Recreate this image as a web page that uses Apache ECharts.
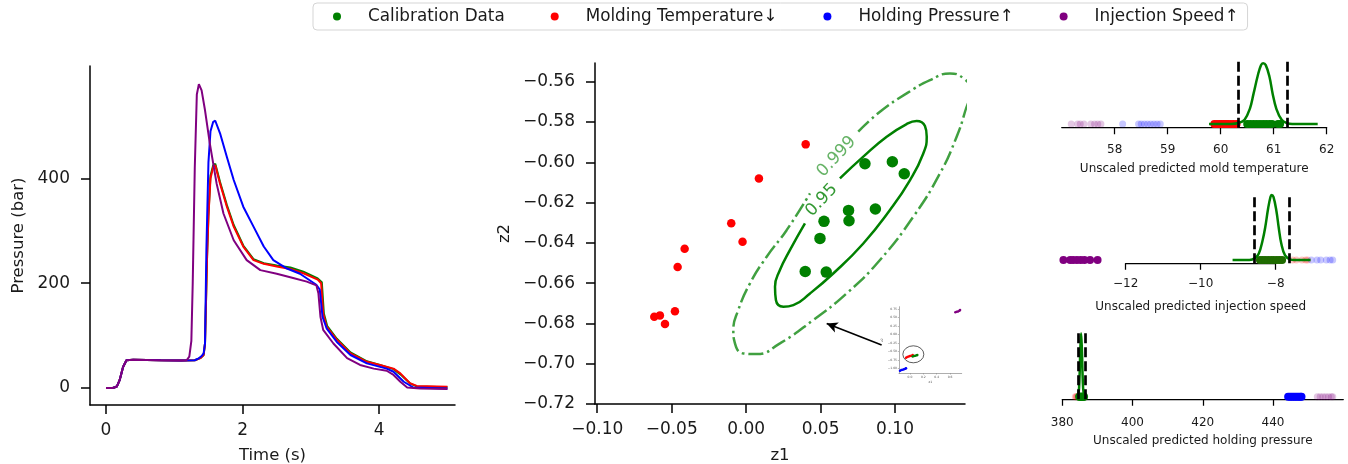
<!DOCTYPE html>
<html>
<head>
<meta charset="utf-8">
<script src="https://cdn.jsdelivr.net/npm/echarts@6/dist/echarts.min.js"></script>
<style>
  html, body { margin: 0; padding: 0; background: #fff; }
  #chart { width: 1348px; height: 464px; }
</style>
</head>
<body>
<div id="chart"></div>
<script>
// ---- left panel: pressure curves [time (s), pressure (bar)]
var curveCalib = [[0,0],[0.1,0],[0.16,3],[0.2,15],[0.25,40],[0.3,53],[0.4,54],[0.8,53],[1.1,52.5],[1.3,53],[1.38,57],[1.43,63],[1.45,85],[1.48,250],[1.5,330],[1.53,405],[1.57,425],[1.6,428],[1.67,393],[1.77,349],[1.87,311],[2.01,272],[2.16,246],[2.31,238],[2.5,234],[2.7,230],[2.89,222],[3.1,209],[3.16,202],[3.19,142],[3.24,118],[3.38,94],[3.58,68],[3.82,51],[4.01,44],[4.21,36],[4.33,24],[4.45,9],[4.55,3],[5.0,1.5]];
var curveTemp = [[0,0],[0.1,0],[0.16,3],[0.2,15],[0.25,40],[0.3,53],[0.4,54],[0.8,53],[1.1,52.5],[1.3,53],[1.38,57],[1.43,63],[1.45,85],[1.48,250],[1.5,327],[1.53,400],[1.57,422],[1.6,425],[1.67,390],[1.77,346],[1.87,308],[2.01,270],[2.16,244],[2.31,237],[2.5,232],[2.7,227],[2.89,219],[3.1,207],[3.15,200],[3.18,142],[3.23,117],[3.38,92],[3.58,66],[3.82,50],[4.01,44],[4.21,37],[4.31,28],[4.45,9],[4.55,4],[5.0,2.5]];
var curvePressure = [[0,0],[0.1,0],[0.16,3],[0.2,15],[0.25,40],[0.3,53],[0.4,54],[0.8,53],[1.1,52.5],[1.3,53],[1.35,56],[1.4,61],[1.43,66],[1.45,85],[1.47,263],[1.5,430],[1.53,490],[1.57,508],[1.6,510],[1.67,486],[1.77,441],[1.87,397],[2.01,346],[2.16,308],[2.31,270],[2.45,244],[2.65,228],[2.84,218],[3.08,197],[3.13,188],[3.17,136],[3.23,114],[3.38,88],[3.58,63],[3.82,47],[4.11,37],[4.21,31],[4.36,12],[4.5,1],[5.0,-1]];
var curveSpeed = [[0,0],[0.1,0],[0.16,3],[0.2,15],[0.25,40],[0.3,53],[0.4,54],[0.8,53],[1.1,52.5],[1.18,53],[1.22,60],[1.25,90],[1.27,200],[1.3,420],[1.33,560],[1.36,580],[1.4,568],[1.45,530],[1.52,467],[1.62,390],[1.72,333],[1.87,282],[2.06,244],[2.26,225],[2.5,218],[2.74,210],[2.94,203],[3.08,196],[3.11,181],[3.14,136],[3.18,111],[3.33,85],[3.53,57],[3.72,44],[3.92,37],[4.11,33],[4.21,25],[4.31,12],[4.41,1],[4.6,-1],[5.0,-2]];
var timeTicks = [0, 2, 4];
var pressureTicks = [0, 200, 400];

// ---- middle panel: latent space [z1, z2]
var latentCalib = [[0.0798,-0.6007],[0.0982,-0.5997],[0.1062,-0.6057],[0.0688,-0.6239],[0.0868,-0.6232],[0.0523,-0.6293],[0.0691,-0.629],[0.0496,-0.6378],[0.0397,-0.6542],[0.0538,-0.6545]];
var latentTemp = [[0.040,-0.5911],[0.0086,-0.608],[-0.010,-0.6303],[-0.0024,-0.6394],[-0.0413,-0.6429],[-0.046,-0.652],[-0.0478,-0.674],[-0.0579,-0.676],[-0.0617,-0.6767],[-0.0545,-0.6803]];
var ellipse95 = [[0.0630,-0.6080],[0.0787,-0.5972],[0.0944,-0.5873],[0.1078,-0.5810],[0.1145,-0.5795],[0.1201,-0.5820],[0.1213,-0.5873],[0.1190,-0.5956],[0.1101,-0.6088],[0.0966,-0.6237],[0.0787,-0.6403],[0.0585,-0.6552],[0.0429,-0.6651],[0.0317,-0.6709],[0.0250,-0.6717],[0.0200,-0.6684],[0.0194,-0.6618],[0.0227,-0.6535],[0.0294,-0.6436],[0.0395,-0.6303]];
var ellipse999 = [[0.0753,-0.5848],[0.0899,-0.5749],[0.1078,-0.5658],[0.1235,-0.5592],[0.1369,-0.5559],[0.1459,-0.5583],[0.1508,-0.5641],[0.1470,-0.5749],[0.1414,-0.5873],[0.1302,-0.6055],[0.1123,-0.6270],[0.0899,-0.6485],[0.0675,-0.6651],[0.0451,-0.6783],[0.0227,-0.6899],[0.0070,-0.6952],[-0.0019,-0.6949],[-0.0075,-0.6899],[-0.0086,-0.6833],[-0.0053,-0.6734],[0.0026,-0.6601],[0.0138,-0.6469],[0.0272,-0.6337],[0.0429,-0.6154]];
var label95 = [0.0507, -0.6188];
var label999 = [0.0608, -0.5972];
var arrowTail = [0.091, -0.6907];
var arrowHead = [0.0541, -0.680];
var z1Ticks = [-0.10, -0.05, 0.00, 0.05, 0.10];
var z2Ticks = [-0.72, -0.70, -0.68, -0.66, -0.64, -0.62, -0.60, -0.58, -0.56];

// ---- inset: full latent space
var insetCalib = [[0.04,-0.64],[0.06,-0.63],[0.08,-0.62],[0.1,-0.61],[0.11,-0.6]];
var insetTemp = [[-0.06,-0.68],[-0.04,-0.66],[-0.02,-0.64],[0.0,-0.63],[0.02,-0.62],[0.04,-0.6]];
var insetPressure = [[-0.15,-1.06],[-0.13,-1.04],[-0.11,-1.03],[-0.09,-1.02],[-0.07,-1.0],[-0.06,-0.99]];
var insetSpeed = [[0.68,0.66],[0.7,0.67],[0.72,0.68],[0.74,0.7],[0.75,0.72]];
var insetCircle = [0.05, -0.579];
var insetXTicks = [0.0, 0.2, 0.4, 0.6];
var insetYTicks = [-1.0, -0.75, -0.5, -0.25, 0.0, 0.25, 0.5, 0.75];

// ---- right panels: unscaled predictions
var moldCalib = [60.5,60.56,60.62,60.68,60.74,60.8,60.86,60.92,60.97,61.08,61.12];
var moldTemp = [59.88,59.93,59.98,60.02,60.06,60.1,60.14,60.19,60.24,60.3];
var moldPressure = [58.15,58.45,58.5,58.56,58.62,58.68,58.74,58.8,58.86];
var moldSpeed = [57.18,57.3,57.35,57.42,57.55,57.62,57.68,57.74];
var moldKde = [[59.78,0],[60.2,0],[60.35,0.02],[60.45,0.07],[60.55,0.25],[60.62,0.5],[60.7,0.8],[60.76,0.97],[60.8,1],[60.85,0.97],[60.92,0.78],[60.98,0.5],[61.05,0.25],[61.15,0.07],[61.25,0.015],[61.35,0],[61.83,0]];
var moldCI = [60.33, 61.26];
var moldTicks = [58, 59, 60, 61, 62];

var speedCalib = [-8.42,-8.35,-8.28,-8.2,-8.12,-8.05,-7.97,-7.9,-7.83];
var speedTemp = [-7.55,-7.45,-7.3,-7.2,-7.15];
var speedPressure = [-7.05,-6.9,-6.8,-6.65,-6.55,-6.48];
var speedSpeed = [-13.66,-13.48,-13.4,-13.3,-13.2,-13.1,-12.95,-12.75];
var speedKde = [[-9.15,0],[-8.7,0],[-8.55,0.03],[-8.45,0.1],[-8.35,0.3],[-8.28,0.5],[-8.2,0.8],[-8.14,0.97],[-8.11,1],[-8.06,0.97],[-7.98,0.75],[-7.92,0.5],[-7.85,0.25],[-7.75,0.07],[-7.62,0.01],[-7.5,0],[-7.07,0]];
var speedCI = [-8.58, -7.645];
var speedTicks = [-12, -10, -8];

var holdCalib = [384.8,385.0,385.2,385.4,385.6,385.8,386.0,386.2];
var holdTemp = [383.7,384.0,384.2];
var holdPressure = [444.3,444.8,445.3,445.8,446.3,446.8,447.3,447.8,448.1];
var holdSpeed = [452.6,453.4,454.2,455,455.8,456.6,457];
var holdKde = [[384.0,0],[384.6,0.05],[384.9,0.3],[385.1,0.7],[385.35,1],[385.6,0.7],[385.8,0.3],[386.1,0.05],[386.7,0]];
var holdCI = [384.4, 386.5];
var holdTicks = [380, 400, 420, 440];

var GREEN = '#008000', RED = '#ff0000', BLUE = '#0000ff', PURPLE = '#800080';
var FONT = 'DejaVu Sans';
var TXT = '#1a1a1a';

function fmt(d) {
  return function (v) { return (v < 0 ? '\u2212' : '') + Math.abs(v).toFixed(d); };
}
function on0(arr) { return arr.map(function (x) { return [x, 0]; }); }

function mainAxisX(grid, min, max, ticks, dec, name, gap) {
  return {
    type: 'value', gridIndex: grid, min: min, max: max,
    name: name, nameLocation: 'middle', nameGap: gap,
    nameTextStyle: { fontFamily: FONT, fontSize: 16.5, color: TXT },
    axisLine: { show: true, onZero: false, lineStyle: { color: '#000', width: 1.5 } },
    axisTick: { show: true, length: 9, customValues: ticks, lineStyle: { color: '#000', width: 1.5 } },
    axisLabel: { customValues: ticks, formatter: fmt(dec), fontFamily: FONT, fontSize: 17, color: TXT, margin: 17 },
    splitLine: { show: false }
  };
}
function mainAxisY(grid, min, max, ticks, dec, name, gap) {
  return {
    type: 'value', gridIndex: grid, min: min, max: max,
    name: name, nameLocation: 'middle', nameGap: gap,
    nameTextStyle: { fontFamily: FONT, fontSize: 16.5, color: TXT },
    axisLine: { show: true, onZero: false, lineStyle: { color: '#000', width: 1.5 } },
    axisTick: { show: true, length: 9, customValues: ticks, lineStyle: { color: '#000', width: 1.5 } },
    axisLabel: { customValues: ticks, formatter: fmt(dec), fontFamily: FONT, fontSize: 17, color: TXT, margin: 20 },
    splitLine: { show: false }
  };
}
function smallAxisX(grid, min, max, ticks, name, margin, gap) {
  return {
    type: 'value', gridIndex: grid, min: min, max: max,
    name: name, nameLocation: 'middle', nameGap: gap,
    nameTextStyle: { fontFamily: FONT, fontSize: 12, color: TXT },
    axisLine: { show: true, onZero: false, lineStyle: { color: '#000', width: 1.25 } },
    axisTick: { show: true, length: 6.5, customValues: ticks, lineStyle: { color: '#000', width: 1.25 } },
    axisLabel: { customValues: ticks, formatter: fmt(0), fontFamily: FONT, fontSize: 12, color: TXT, margin: margin },
    splitLine: { show: false }
  };
}
function hiddenX(grid, min, max) {
  return { type: 'value', gridIndex: grid, min: min, max: max, show: false, splitLine: { show: false } };
}
function hiddenY(grid, min, max) {
  return { type: 'value', gridIndex: grid, min: min, max: max, show: false, splitLine: { show: false } };
}
function dots(name, grid, data, color, size, faded) {
  return {
    name: name, type: 'scatter', xAxisIndex: grid, yAxisIndex: grid, data: data,
    symbolSize: size, clip: false, silent: true,
    itemStyle: { color: color, opacity: faded ? 0.22 : 1 }
  };
}
function kde(grid, data, ci) {
  return {
    type: 'line', xAxisIndex: grid, yAxisIndex: grid, data: data, smooth: 0.4,
    showSymbol: false, clip: false, silent: true,
    lineStyle: { color: GREEN, width: 2.5 }, z: 3,
    markLine: {
      silent: true, symbol: 'none', label: { show: false },
      lineStyle: { color: '#000', width: 2.7, type: [10, 4] },
      data: ci.map(function (x) { return { xAxis: x }; })
    }
  };
}
function curve(name, data, color) {
  return {
    name: name, type: 'line', xAxisIndex: 0, yAxisIndex: 0, data: data,
    showSymbol: false, smooth: false, silent: true,
    lineStyle: { color: color, width: 2 }, itemStyle: { color: color }
  };
}
function box(left, top, width, height) {
  return { left: left, top: top, width: width, height: height, outerBoundsMode: 'none', containLabel: false };
}

var chart = echarts.init(document.getElementById('chart'));
var option = {
  backgroundColor: '#fff',
  animation: false,
  textStyle: { fontFamily: FONT },
  legend: {
    data: ['Calibration Data', 'Molding Temperature\u2193', 'Holding Pressure\u2191', 'Injection Speed\u2191'],
    left: 313, top: 3, icon: 'circle', itemWidth: 8, itemHeight: 8, itemGap: 46,
    padding: [5, 9, 5, 20],
    borderColor: '#d5d5d5', borderWidth: 1, borderRadius: 4,
    selectedMode: false,
    textStyle: { fontFamily: FONT, fontSize: 16.8, color: TXT, padding: [0, 0, 0, 22] }
  },
  grid: [
    box(90, 66, 365, 339),
    box(595, 63, 370, 341),
    box(899, 306.7, 62.7, 66.6),
    box(1061.7, 60.9, 265, 66.8),
    box(1125.7, 193.3, 150, 70),
    box(1062.3, 330, 281, 69.3),
    box(1058.2, 193.3, 277.5, 70)
  ],
  xAxis: [
    mainAxisX(0, -0.234, 5.11, timeTicks, 0, 'Time (s)', 42),
    mainAxisX(1, -0.1015, 0.147, z1Ticks, 2, 'z1', 43),
    {
      type: 'value', gridIndex: 2, min: -0.165, max: 0.775,
      name: 'z1', nameLocation: 'middle', nameGap: 7,
      nameTextStyle: { fontFamily: FONT, fontSize: 3, color: '#444' },
      axisLine: { show: true, onZero: false, lineStyle: { color: '#777', width: 0.6 } },
      axisTick: { show: true, length: 1.2, customValues: insetXTicks, lineStyle: { color: '#777', width: 0.5 } },
      axisLabel: { customValues: insetXTicks, formatter: fmt(1), fontFamily: FONT, fontSize: 3, color: '#555', margin: 2 },
      splitLine: { show: false }
    },
    smallAxisX(3, 57, 62, moldTicks, 'Unscaled predicted mold temperature', 16, 35),
    smallAxisX(4, -12, -8, speedTicks, 'Unscaled predicted injection speed', 15, 38),
    smallAxisX(5, 380, 460, holdTicks, 'Unscaled predicted holding pressure', 18, 36),
    hiddenX(6, -13.8, -6.4)
  ],
  yAxis: [
    mainAxisY(0, -32.4, 614.5, pressureTicks, 0, 'Pressure (bar)', 63),
    mainAxisY(1, -0.72, -0.5507, z2Ticks, 2, 'z2', 82),
    {
      type: 'value', gridIndex: 2, min: -1.137, max: 0.82,
      name: 'z2', nameLocation: 'middle', nameGap: 12,
      nameTextStyle: { fontFamily: FONT, fontSize: 3, color: '#444' },
      axisLine: { show: true, onZero: false, lineStyle: { color: '#777', width: 0.6 } },
      axisTick: { show: true, length: 1.2, customValues: insetYTicks, lineStyle: { color: '#777', width: 0.5 } },
      axisLabel: { customValues: insetYTicks, formatter: fmt(2), fontFamily: FONT, fontSize: 3, color: '#555', margin: 2 },
      splitLine: { show: false }
    },
    hiddenY(3, -0.061, 1.04),
    hiddenY(4, -0.051, 1.026),
    hiddenY(5, -0.041, 1.05),
    hiddenY(6, -0.051, 1.026)
  ],
  series: [
    // left panel
    curve('Calibration Data', curveCalib, GREEN),
    curve('Molding Temperature\u2193', curveTemp, RED),
    curve('Holding Pressure\u2191', curvePressure, BLUE),
    curve('Injection Speed\u2191', curveSpeed, PURPLE),

    // middle panel
    {
      type: 'line', xAxisIndex: 1, yAxisIndex: 1, data: ellipse999, smooth: 0.5,
      showSymbol: false, silent: true,
      lineStyle: { color: 'rgba(0,128,0,0.75)', width: 2.5, type: [15, 4, 2.5, 4] }
    },
    {
      type: 'line', xAxisIndex: 1, yAxisIndex: 1, data: ellipse95, smooth: 0.5,
      showSymbol: false, silent: true,
      lineStyle: { color: GREEN, width: 2.5 }
    },
    {
      type: 'scatter', xAxisIndex: 1, yAxisIndex: 1, symbolSize: 0, silent: true,
      data: [
        { value: label95, label: { formatter: '0.95', color: GREEN } },
        { value: label999, label: { formatter: '0.999', color: 'rgba(0,128,0,0.75)' } }
      ],
      label: { show: true, position: 'inside', rotate: 47, fontFamily: FONT, fontSize: 17 }
    },
    {
      name: 'Molding Temperature\u2193', type: 'scatter', xAxisIndex: 1, yAxisIndex: 1,
      data: latentTemp, symbolSize: 8.5, silent: true, itemStyle: { color: RED, opacity: 1 },
      markLine: {
        silent: true, symbol: ['none', 'arrow'], symbolSize: [8, 11], label: { show: false },
        lineStyle: { color: '#000', width: 1.6, type: 'solid' },
        data: [[{ coord: arrowTail }, { coord: arrowHead }]]
      }
    },
    dots('Calibration Data', 1, latentCalib, GREEN, 11.5, false),

    // inset
    dots('Holding Pressure\u2191', 2, insetPressure, BLUE, 2.5, false),
    dots('Molding Temperature\u2193', 2, insetTemp, RED, 2.5, false),
    dots('Calibration Data', 2, insetCalib, GREEN, 2.5, false),
    dots('Injection Speed\u2191', 2, insetSpeed, PURPLE, 2.5, false),
    {
      type: 'scatter', xAxisIndex: 2, yAxisIndex: 2, data: [insetCircle], symbolSize: [21, 17],
      silent: true, itemStyle: { color: 'rgba(0,0,0,0)', borderColor: '#000', borderWidth: 0.8 }
    },

    // right panel 1: mold temperature
    dots('Injection Speed\u2191', 3, on0(moldSpeed), PURPLE, 7, true),
    dots('Holding Pressure\u2191', 3, on0(moldPressure), BLUE, 7, true),
    dots('Molding Temperature\u2193', 3, on0(moldTemp), RED, 8, false),
    dots('Calibration Data', 3, on0(moldCalib), GREEN, 8, false),
    kde(3, moldKde, moldCI),

    // right panel 2: injection speed (axis in grid 4, data in grid 6)
    { type: 'scatter', xAxisIndex: 4, yAxisIndex: 4, data: [], silent: true },
    dots('Injection Speed\u2191', 6, on0(speedSpeed), PURPLE, 8, false),
    dots('Molding Temperature\u2193', 6, on0(speedTemp), RED, 7, true),
    dots('Holding Pressure\u2191', 6, on0(speedPressure), BLUE, 7, true),
    dots('Calibration Data', 6, on0(speedCalib), '#1f6b00', 8, false),
    kde(6, speedKde, speedCI),

    // right panel 3: holding pressure
    dots('Molding Temperature\u2193', 5, on0(holdTemp), RED, 7, true),
    dots('Holding Pressure\u2191', 5, on0(holdPressure), BLUE, 8, false),
    dots('Injection Speed\u2191', 5, on0(holdSpeed), PURPLE, 7, true),
    dots('Calibration Data', 5, on0(holdCalib), GREEN, 8, false),
    kde(5, holdKde, holdCI)
  ]
};
chart.setOption(option);
</script>
</body>
</html>
